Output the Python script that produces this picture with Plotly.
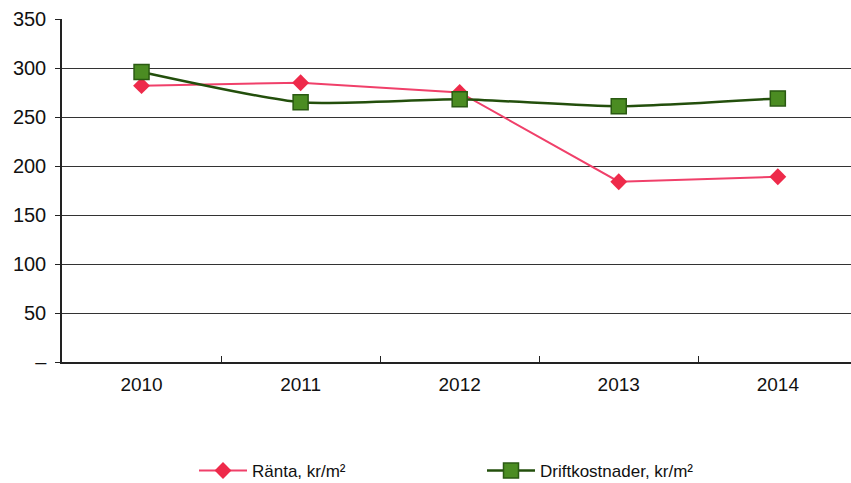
import plotly.graph_objects as go

years = ["2010", "2011", "2012", "2013", "2014"]
ranta = [282, 285, 275, 184, 189]
drift = [296, 265, 268, 261, 269]
y_ticks = [0, 50, 100, 150, 200, 250, 300, 350]
y_labels = ["–", "50", "100", "150", "200", "250", "300", "350"]

fig = go.Figure()
fig.add_trace(go.Scatter(
    x=years, y=ranta, name="Ränta, kr/m²", mode="lines+markers",
    line=dict(color="#f0406a", width=2),
    marker=dict(symbol="diamond", size=13, color="#ee2a4a",
                line=dict(color="#ee2a4a", width=0)),
))
fig.add_trace(go.Scatter(
    x=years, y=drift, name="Driftkostnader, kr/m²", mode="lines+markers",
    line=dict(color="#234f0c", width=2.5, shape="spline", smoothing=0.6),
    marker=dict(symbol="square", size=15, color="#4b8c22",
                line=dict(color="#2a5a12", width=1.5)),
))

fig.update_layout(
    width=851, height=483,
    margin=dict(l=62, r=0, t=19, b=121, autoexpand=False),
    paper_bgcolor="white", plot_bgcolor="white",
    font=dict(family="Liberation Sans, Arial, sans-serif", color="#111"),
    showlegend=True,
    legend=dict(
        orientation="h", x=(194 - 62) / 789, xanchor="left",
        y=(362 - 471) / 343, yanchor="middle",
        font=dict(size=17, color="#111"),
        itemwidth=48, entrywidth=225, entrywidthmode="pixels",
        bgcolor="rgba(0,0,0,0)",
    ),
    xaxis=dict(
        type="category", range=[-0.5, 4.46],
        showgrid=False, showline=True, linecolor="#222", linewidth=1.5,
        ticks="inside", tickson="boundaries", ticklen=6, tickcolor="#222",
        tickfont=dict(size=19, color="#111"), ticklabelstandoff=4,
    ),
    yaxis=dict(
        range=[0, 350], tickvals=y_ticks, ticktext=y_labels,
        showgrid=True, gridcolor="#333", gridwidth=1.3,
        showline=True, linecolor="#222", linewidth=1.5,
        ticks="outside", ticklen=5, tickcolor="#222",
        tickfont=dict(size=20, color="#111"), zeroline=False,
        ticklabelstandoff=5,
    ),
)

fig.write_html("out.html")
